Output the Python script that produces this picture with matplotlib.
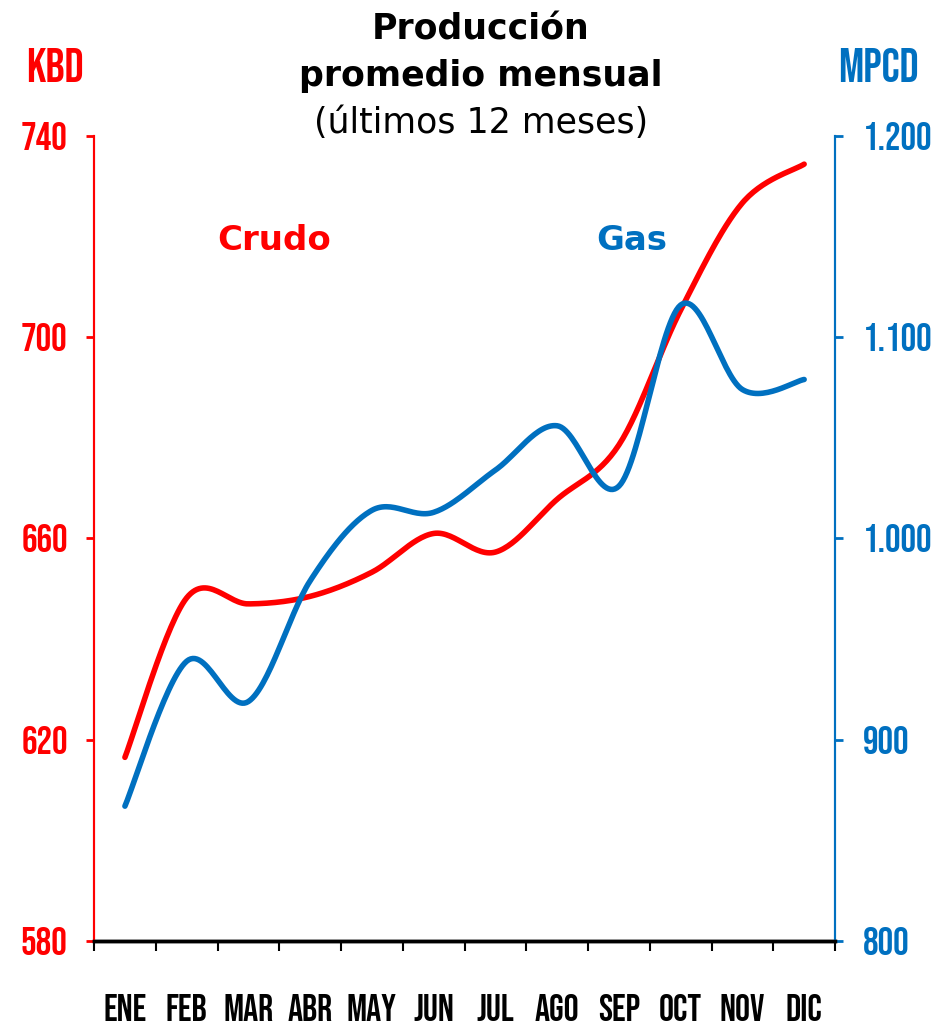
import numpy as np
import matplotlib
matplotlib.use('Agg')
import matplotlib.pyplot as plt

months = ['ENE', 'FEB', 'MAR', 'ABR', 'MAY', 'JUN', 'JUL', 'AGO', 'SEP', 'OCT', 'NOV', 'DIC']
crudo = [616.5, 648.2, 647.0, 648.5, 653.3, 661.0, 657.3, 667.8, 678.6, 705.4, 726.7, 734.4]
gas = [867, 939, 919, 979, 1014, 1013, 1034, 1056, 1026, 1116, 1074, 1079]
kbd_ticks = [580, 620, 660, 700, 740]
mpcd_ticks = [800, 900, 1000, 1100, 1200]
mpcd_labels = ['800', '900', '1.000', '1.100', '1.200']

RED = '#FF0000'
BLUE = '#0070C0'
NARROW = ['Bebas Neue', 'DejaVu Sans']


def smooth(y, n=30):
    # excel-like smoothed line (bezier through the points)
    y = np.asarray(y, dtype=float)
    x = np.arange(len(y), dtype=float)
    xs, ys = [], []
    for i in range(len(y) - 1):
        p0 = i - 1 if i > 0 else i
        p3 = i + 2 if i + 2 < len(y) else i + 1
        t = np.linspace(0, 1, n, endpoint=False)
        for arr, out in ((x, xs), (y, ys)):
            a0, a1, a2, a3 = arr[p0], arr[i], arr[i + 1], arr[p3]
            c1 = a1 + (a2 - a0) / 6
            c2 = a2 - (a3 - a1) / 6
            out.extend((1 - t) ** 3 * a1 + 3 * (1 - t) ** 2 * t * c1 + 3 * (1 - t) * t ** 2 * c2 + t ** 3 * a2)
    xs.append(x[-1])
    ys.append(y[-1])
    return np.array(xs), np.array(ys)


fig = plt.figure(figsize=(9.33, 10.30), dpi=100)
ax = fig.add_axes([0.1008, 0.0864, 0.7942, 0.7816])
ax2 = ax.twinx()

cx, cy = smooth(crudo)
gx, gy = smooth(gas)
ax.plot(cx, cy, color=RED, lw=4, solid_capstyle='round', zorder=3)
ax2.plot(gx, gy, color=BLUE, lw=4, solid_capstyle='round', zorder=3)

ax.set_xlim(-0.5, 11.5)
ax.set_ylim(580, 740)
ax2.set_ylim(800, 1200)
ax.set_yticks(kbd_ticks)
ax2.set_yticks(mpcd_ticks)
ax2.set_yticklabels(mpcd_labels)

ax.set_xticks(np.arange(-0.5, 12, 1))
ax.set_xticklabels([])
ax.set_xticks(np.arange(12), minor=True)
ax.set_xticklabels(months, minor=True, fontsize=27, family=NARROW)
ax.tick_params(axis='x', which='major', length=7, width=1.5, color='black', direction='out')
ax.tick_params(axis='x', which='minor', length=0, pad=38)

ax.tick_params(axis='y', colors=RED, length=6, width=2, pad=13)
ax2.tick_params(axis='y', colors=BLUE, length=6, width=2, pad=14)
for lab in ax.get_yticklabels() + ax2.get_yticklabels():
    lab.set_fontsize(28)
    lab.set_family(NARROW)

for a in (ax, ax2):
    a.spines['top'].set_visible(False)
    a.spines['bottom'].set_color('black')
    a.spines['bottom'].set_linewidth(2.5)
    a.spines['left'].set_color(RED)
    a.spines['left'].set_linewidth(1.5)
    a.spines['right'].set_color(BLUE)
    a.spines['right'].set_linewidth(1.5)

fig.text(0.5155, 0.971, 'Producción', ha='center', va='center', fontsize=25, fontweight='bold')
fig.text(0.5155, 0.926, 'promedio mensual', ha='center', va='center', fontsize=25, fontweight='bold')
fig.text(0.5155, 0.881, '(últimos 12 meses)', ha='center', va='center', fontsize=25)
fig.text(0.059, 0.937, 'KBD', ha='center', va='center', fontsize=34, color=RED, family=NARROW)
fig.text(0.942, 0.937, 'MPCD', ha='center', va='center', fontsize=34, color=BLUE, family=NARROW)

ax.text(1.49, 719.3, 'Crudo', ha='left', va='center', fontsize=24.5, fontweight='bold', color=RED)
ax.text(7.63, 719.3, 'Gas', ha='left', va='center', fontsize=24.5, fontweight='bold', color=BLUE)

fig.savefig('out.png', dpi=100)
